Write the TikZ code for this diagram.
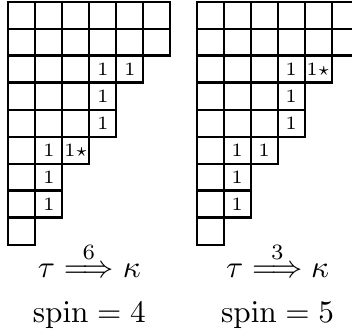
\documentclass[tikz,border=0pt]{standalone}
\usepackage{amsmath,amssymb}
\usepackage{tikz}
\usetikzlibrary{positioning}

\begin{document}
\begin{tikzpicture}[x=8.64pt,y=-8.64pt,
  box/.style={line width=.72pt},
  rim/.style={line width=1.1pt},
  entry/.style={inner sep=0pt,font=\fontsize{6}{7}\selectfont},
  caption/.style={anchor=base,inner sep=0pt}]
\useasboundingbox (0,0) rectangle (13.037,12.407);
\clip (0,0) rectangle (13.037,12.407);
% the two shapes (6,6,5,4,4,3,2,2,1)
\foreach \ox in {0.308,7.285}{
  \begin{scope}[shift={(\ox,0.063)}]
  \foreach \r/\n in {0/6,1/6,2/5,3/4,4/4,5/3,6/2,7/2,8/1}
    \foreach \c in {1,...,\n}
      \draw[box] (\c-1,\r) rectangle (\c,\r+1);
  \draw[rim] (0,2)--(6,2) (0,3)--(5,3) (0,7)--(2,7) (0,8)--(2,8);
  \end{scope}
}
% left tableau
\begin{scope}[shift={(0.308,0.063)}]
\node[entry] (la1) at (3.5,2.5) {1};
\node[entry] (la2) at (4.5,2.5) {1};
\node[entry] (la3) at (3.5,3.5) {1};
\node[entry] (la4) at (3.5,4.5) {1};
\node[entry] (la5) at (1.5,5.5) {1};
\node[entry] (la6) at (2.5,5.5) {$1{\star}$};
\node[entry] (la7) at (1.5,6.5) {1};
\node[entry] (la8) at (1.5,7.5) {1};
\end{scope}
% right tableau
\begin{scope}[shift={(7.285,0.063)}]
\node[entry] (ra1) at (3.5,2.5) {1};
\node[entry] (ra2) at (4.5,2.5) {$1{\star}$};
\node[entry] (ra3) at (3.5,3.5) {1};
\node[entry] (ra4) at (3.5,4.5) {1};
\node[entry] (ra5) at (1.5,5.5) {1};
\node[entry] (ra6) at (2.5,5.5) {1};
\node[entry] (ra7) at (1.5,6.5) {1};
\node[entry] (ra8) at (1.5,7.5) {1};
\end{scope}
% captions
\node[caption] (movel) at (3.31,10.26) {$\tau \stackrel{6}{\Longrightarrow} \kappa$};
\node[caption] (spinl) at (3.31,11.96) {$\mathrm{spin}=4$};
\node[caption] (mover) at (10.285,10.26) {$\tau \stackrel{3}{\Longrightarrow} \kappa$};
\node[caption] (spinr) at (10.285,11.96) {$\mathrm{spin}=5$};
\end{tikzpicture}
\end{document}
